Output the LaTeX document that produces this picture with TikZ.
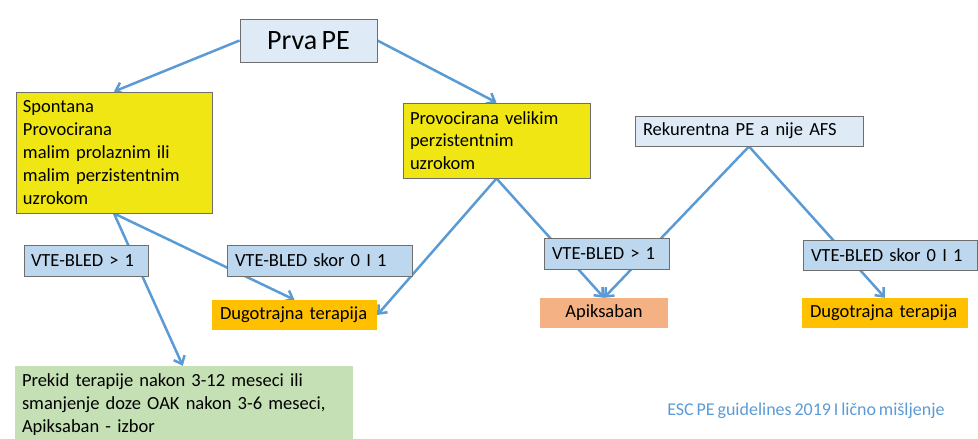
\documentclass[tikz,border=0pt]{standalone}
\usepackage{fontspec}
\setmainfont{Carlito}[WordSpace=0.7]
\usetikzlibrary{arrows.meta,backgrounds,calc}
\definecolor{paleblue}{HTML}{DEEBF7}
\definecolor{midblue}{HTML}{BDD7EE}
\definecolor{boxyellow}{HTML}{F0E614}
\definecolor{boxorange}{HTML}{FFC000}
\definecolor{boxsalmon}{HTML}{F4B183}
\definecolor{boxgreen}{HTML}{C5E0B4}
\definecolor{linkblue}{HTML}{5B9BD5}
\definecolor{bordergray}{HTML}{6E6E6E}
\begin{document}
\begin{tikzpicture}[x=1pt,y=-1pt,
  base/.style={inner sep=0pt, font=\fontsize{18.5}{22.8}\selectfont, text=black},
  framed/.style={base, draw=bordergray, line width=0.9pt},
  lefttext/.style={align=left, inner xsep=#1},
  conn/.style={draw=linkblue, line width=2.5pt, -{Straight Barb[length=7pt,width=12pt]}}]
\useasboundingbox (0,0) rectangle (978,439);

\node[framed, fill=paleblue, minimum width=137pt, minimum height=43pt, font=\fontsize{28}{32}\selectfont] (prva) at (308.5,40.5) {Prva PE};

\node[framed, fill=boxyellow, minimum width=196pt, minimum height=121pt, text width=182pt, lefttext=7pt] (yl) at (114,152.5)
  {Spontana\\Provocirana\\malim prolaznim ili\\malim perzistentnim\\uzrokom};

\node[framed, fill=boxyellow, minimum width=187pt, minimum height=75pt, text width=173pt, lefttext=7pt] (ym) at (496.5,140.5)
  {Provocirana velikim\\perzistentnim\\uzrokom};

\node[framed, fill=paleblue, minimum width=228pt, minimum height=30pt, text width=212pt, lefttext=8pt] (rk) at (749,131)
  {Rekurentna PE a nije AFS};

\node[framed, fill=midblue, minimum width=124pt, minimum height=31pt, text width=110pt, lefttext=7pt] (v1) at (86,260.5)
  {VTE-BLED > 1};
\node[framed, fill=midblue, minimum width=185pt, minimum height=31pt, text width=169pt, lefttext=8pt] (v2) at (319.5,260.5)
  {VTE-BLED skor 0 I 1};
\node[framed, fill=midblue, minimum width=125pt, minimum height=31pt, text width=109pt, lefttext=8pt] (v3) at (606.5,253.5)
  {VTE-BLED > 1};
\node[framed, fill=midblue, minimum width=174pt, minimum height=30pt, text width=158pt, lefttext=8pt] (v4) at (890,255)
  {VTE-BLED skor 0 I 1};

\node[base, fill=boxorange, minimum width=165pt, minimum height=30pt, text width=149pt, lefttext=8pt] (dl) at (294.5,315)
  {Dugotrajna terapija};
\node[base, fill=boxsalmon, minimum width=128pt, minimum height=30pt] (ap) at (604,313)
  {Apiksaban};
\node[base, fill=boxorange, minimum width=166pt, minimum height=30pt, text width=150pt, lefttext=8pt] (dr) at (885,313)
  {Dugotrajna terapija};

\node[base, fill=boxgreen, minimum width=338pt, minimum height=77pt, text width=324pt, lefttext=7pt] (gr) at (184,404.5)
  {Prekid terapije nakon 3-12 meseci ili\\smanjenje doze OAK nakon 3-6 meseci,\\Apiksaban - izbor};

\node[base, text=linkblue, font=\fontsize{18}{21}\selectfont] (src) at (806,411)
  {ESC PE guidelines 2019 I lično mišljenje};

\begin{scope}[on background layer]
  \draw[conn] (prva.west) -- (yl.north);
  \draw[conn] (prva.east) -- (ym.north);
  \draw[conn] (yl.south) -- ($(gr.north west)+(168,0)$);
  \draw[conn] (yl.south) -- (dl.north);
  \draw[conn] (ym.south) -- (dl.east);
  \draw[conn] (ym.south) -- (ap.north);
  \draw[conn] (rk.south) -- (ap.north);
  \draw[conn] (rk.south) -- (dr.north);
\end{scope}
\end{tikzpicture}
\end{document}
